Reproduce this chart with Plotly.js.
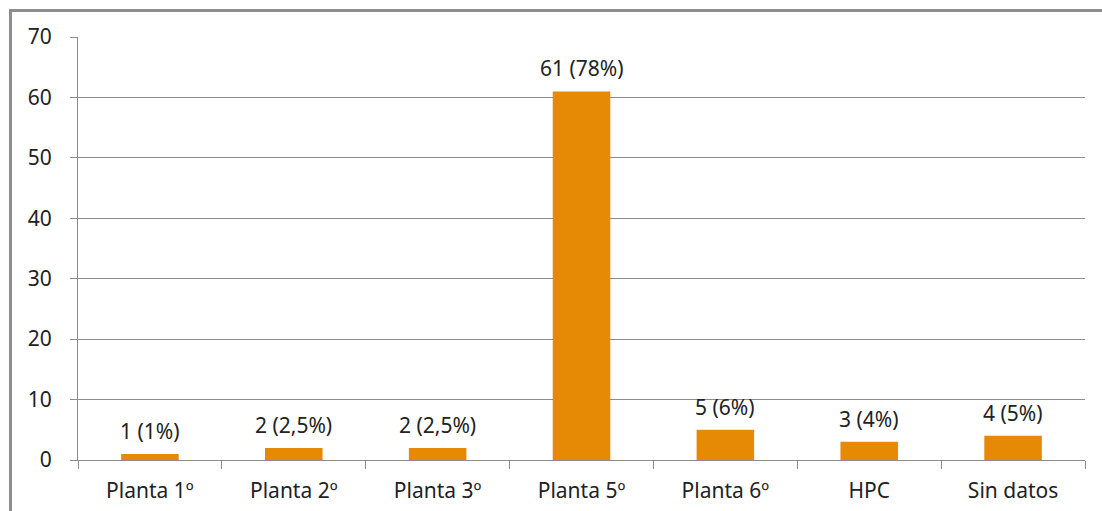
<!DOCTYPE html>
<html>
<head>
<meta charset="utf-8">
<script src="https://cdn.plot.ly/plotly-3.0.1.min.js"></script>
<style>
html,body{margin:0;padding:0;background:#fff;}
#chart{width:1102px;height:511px;}
#frame{position:absolute;left:9px;top:9px;width:1200px;height:600px;border-left:3px solid #8e8e8e;border-top:3px solid #8e8e8e;pointer-events:none;}
</style>
</head>
<body>
<div id="chart"></div>
<div id="frame"></div>
<script>
var categories = ["Planta 1º", "Planta 2º", "Planta 3º", "Planta 5º", "Planta 6º", "HPC", "Sin datos"];
var values = [1, 2, 2, 61, 5, 3, 4];
var labels = ["1 (1%)", "2 (2,5%)", "2 (2,5%)", "61 (78%)", "5 (6%)", "3 (4%)", "4 (5%)"];
var yTicks = [0, 10, 20, 30, 40, 50, 60, 70];

var FONT = "Noto Sans, sans-serif";

var trace = {
  type: "bar",
  x: categories,
  y: values,
  marker: {color: "#E68A05", line: {width: 0}},
  hoverinfo: "x+y"
};

var annotations = categories.map(function (c, i) {
  return {
    x: c,
    y: values[i],
    xref: "x",
    yref: "y",
    text: labels[i],
    showarrow: false,
    yanchor: "middle",
    yshift: 23,
    font: {family: FONT, size: 21, color: "#222222"}
  };
});

var layout = {
  width: 1102,
  height: 511,
  margin: {l: 78, r: 17, t: 37, b: 51},
  paper_bgcolor: "#ffffff",
  plot_bgcolor: "#ffffff",
  bargap: 0.6,
  showlegend: false,
  font: {family: FONT, size: 21, color: "#222222"},
  annotations: annotations,
  xaxis: {
    type: "category",
    showline: true,
    linecolor: "#8c8c8c",
    linewidth: 1,
    ticks: "outside",
    tickson: "boundaries",
    ticklen: 8,
    tickcolor: "#8c8c8c",
    showgrid: false,
    zeroline: false,
    tickfont: {family: FONT, size: 21, color: "#222222"},
    ticklabelstandoff: 12
  },
  yaxis: {
    range: [0, 70],
    tickvals: yTicks,
    ticktext: yTicks.map(String),
    showline: true,
    linecolor: "#8c8c8c",
    linewidth: 1,
    ticks: "outside",
    ticklen: 7,
    tickcolor: "#8c8c8c",
    showgrid: true,
    gridcolor: "#8c8c8c",
    gridwidth: 1,
    zeroline: false,
    tickfont: {family: FONT, size: 21, color: "#222222"},
    ticklabelstandoff: 14
  }
};

Plotly.newPlot("chart", [trace], layout, {displayModeBar: false, staticPlot: true});
</script>
</body>
</html>
